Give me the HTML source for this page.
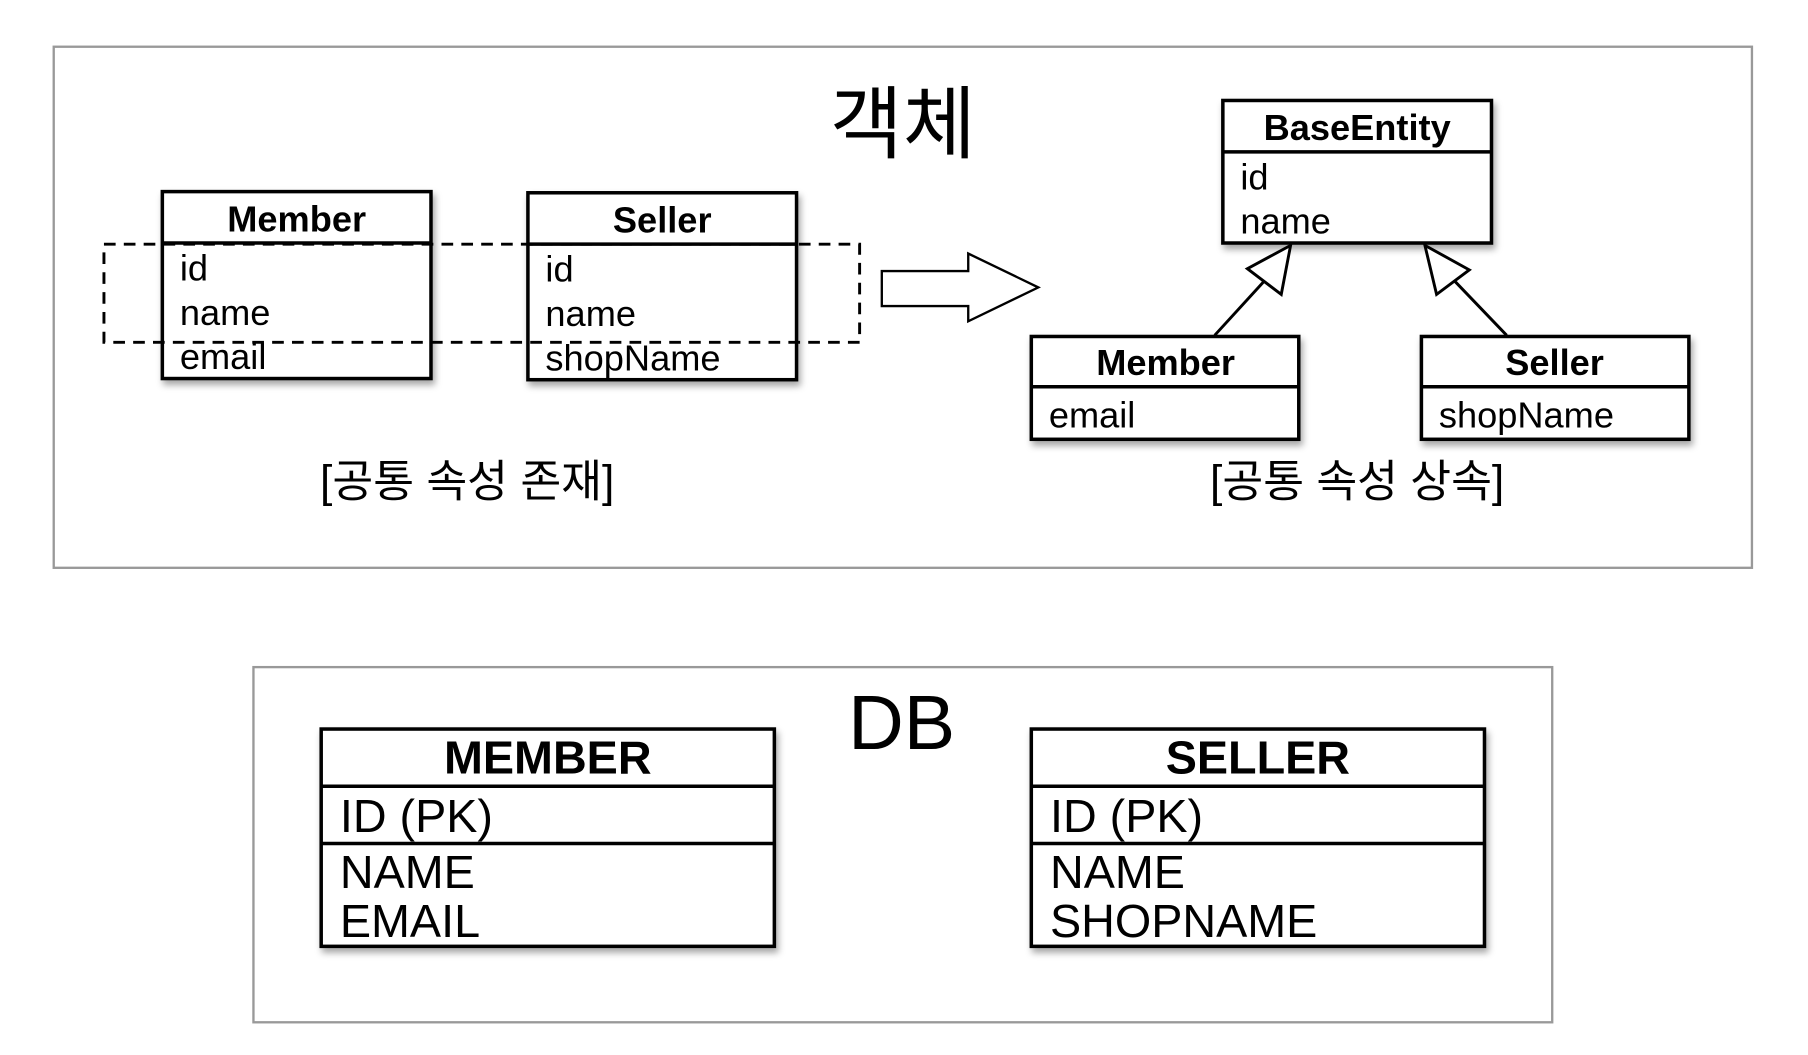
<!DOCTYPE html>
<html><head><meta charset="utf-8"><style>html,body{margin:0;padding:0;background:#fff}svg{display:block}</style></head>
<body>
<svg width="1808" height="1055" viewBox="0 0 1548 903" preserveAspectRatio="none" xmlns="http://www.w3.org/2000/svg" font-family="'Liberation Sans','Noto Sans CJK KR',sans-serif">
<defs><filter id="sh" x="-10%" y="-10%" width="130%" height="140%"><feDropShadow dx="2" dy="4" stdDeviation="3" flood-color="#000" flood-opacity="0.35"/></filter></defs>
<rect x="46" y="40" width="1454" height="446" fill="#fff" stroke="#999" stroke-width="2"/>
<rect x="217" y="571" width="1112" height="304" fill="#fff" stroke="#999" stroke-width="2"/>
<text x="773" y="130" font-size="68" text-anchor="middle">객체</text>
<text x="772" y="641" font-size="66" text-anchor="middle">DB</text>
<g stroke="#000" stroke-width="3" fill="#fff" filter="url(#sh)">
<rect x="139" y="164" width="230" height="160"/>
<rect x="452" y="165" width="230" height="160"/>
<rect x="1047" y="86" width="230" height="122"/>
<rect x="883" y="288" width="229" height="88"/>
<rect x="1217" y="288" width="229" height="88"/>
<rect x="275" y="624" width="388" height="186"/>
<rect x="883" y="624" width="388" height="186"/>
</g>
<g stroke="#000" stroke-width="3">
<line x1="139" y1="208" x2="369" y2="208"/>
<line x1="452" y1="209" x2="682" y2="209"/>
<line x1="1047" y1="130" x2="1277" y2="130"/>
<line x1="883" y1="331" x2="1112" y2="331"/>
<line x1="1217" y1="331" x2="1446" y2="331"/>
<line x1="275" y1="673" x2="663" y2="673"/>
<line x1="275" y1="722" x2="663" y2="722"/>
<line x1="883" y1="673" x2="1271" y2="673"/>
<line x1="883" y1="722" x2="1271" y2="722"/>
</g>
<rect x="89" y="209" width="647" height="84" fill="none" stroke="#000" stroke-width="2.5" stroke-dasharray="10,7"/>
<polygon points="755,232 829,232 829,217 889,246 829,275 829,262 755,262" fill="#fff" stroke="#000" stroke-width="2"/>
<g stroke="#000" stroke-width="2.5" fill="#fff">
<line x1="1040" y1="287" x2="1083" y2="240"/>
<polygon points="1105,210 1068,230 1097,252"/>
<line x1="1290" y1="287" x2="1243" y2="238"/>
<polygon points="1220,210 1258,231 1230,252"/>
</g>
<g font-size="31" fill="#000">
<text x="254" y="198" text-anchor="middle" font-weight="bold">Member</text>
<text x="154" y="240">id</text><text x="154" y="278">name</text><text x="154" y="316">email</text>
<text x="567" y="199" text-anchor="middle" font-weight="bold">Seller</text>
<text x="467" y="241">id</text><text x="467" y="279">name</text><text x="467" y="317">shopName</text>
<text x="1162" y="120" text-anchor="middle" font-weight="bold">BaseEntity</text>
<text x="1062" y="162">id</text><text x="1062" y="200">name</text>
<text x="998" y="321" text-anchor="middle" font-weight="bold">Member</text>
<text x="898" y="366">email</text>
<text x="1331" y="321" text-anchor="middle" font-weight="bold">Seller</text>
<text x="1232" y="366">shopName</text>
</g>
<g font-size="38" fill="#000">
<text x="400" y="425" text-anchor="middle">[공통 속성 존재]</text>
<text x="1162" y="425" text-anchor="middle">[공통 속성 상속]</text>
</g>
<g font-size="40" fill="#000">
<text x="469" y="662" text-anchor="middle" font-weight="bold">MEMBER</text>
<text x="291" y="712">ID (PK)</text><text x="291" y="760">NAME</text><text x="291" y="802">EMAIL</text>
<text x="1077" y="662" text-anchor="middle" font-weight="bold">SELLER</text>
<text x="899" y="712">ID (PK)</text><text x="899" y="760">NAME</text><text x="899" y="802">SHOPNAME</text>
</g>
</svg>
</body></html>
